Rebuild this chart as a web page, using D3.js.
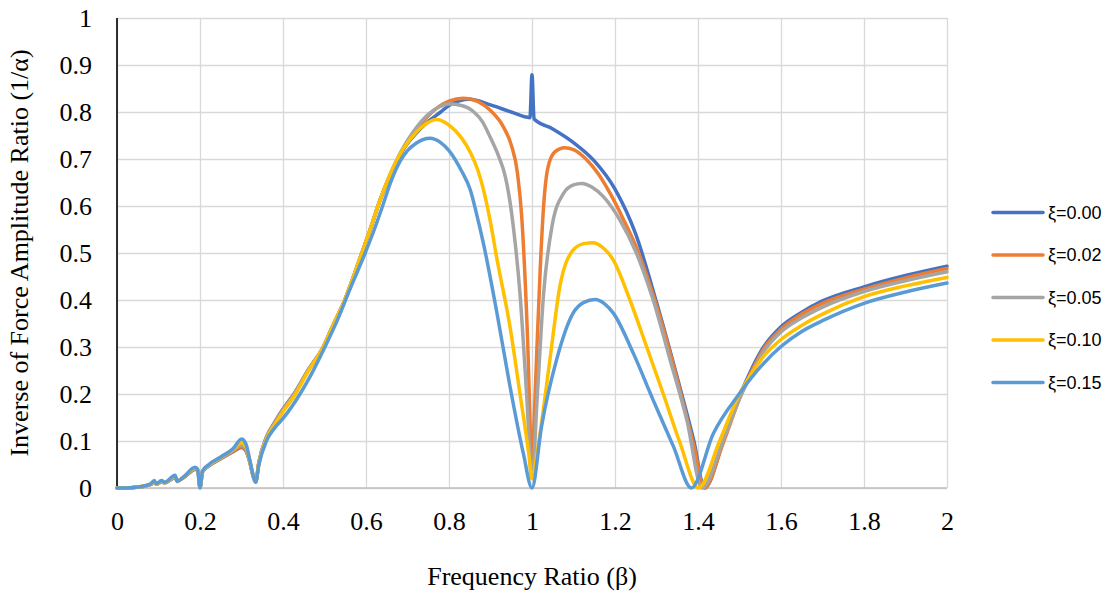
<!DOCTYPE html>
<html>
<head>
<meta charset="utf-8">
<script src="https://cdn.jsdelivr.net/npm/d3@7"></script>
<style>
  html, body { margin: 0; padding: 0; background: #ffffff; }
  svg { display: block; }
  .tick text { font-family: "Liberation Serif", "Times New Roman", serif; font-size: 26px; fill: #000; }
  .title { font-family: "Liberation Serif", "Times New Roman", serif; font-size: 26px; fill: #000; }
  .legend text { font-family: "Liberation Sans", Arial, sans-serif; font-size: 18px; fill: #000; }
</style>
</head>
<body>
<div id="chart"></div>
<script>
// tick values
let xTicks = [0, 0.2, 0.4, 0.6, 0.8, 1, 1.2, 1.4, 1.6, 1.8, 2];
let yTicks = [0, 0.1, 0.2, 0.3, 0.4, 0.5, 0.6, 0.7, 0.8, 0.9, 1];

let seriesNames = ["ξ=0.00", "ξ=0.02", "ξ=0.05", "ξ=0.10", "ξ=0.15"];

// [frequency ratio, inverse of force amplitude ratio]
let xi000 = [[0,0],[0.04,0.001],[0.08,0.007],[0.09,0.012],[0.095,0.008],[0.107,0.013],[0.115,0.011],[0.14,0.022],[0.145,0.015],[0.16,0.022],[0.19,0.04],[0.195,0.036],[0.2,0.002],[0.206,0.034],[0.22,0.046],[0.25,0.062],[0.28,0.077],[0.3,0.086],[0.31,0.08],[0.32,0.055],[0.328,0.026],[0.334,0.013],[0.342,0.055],[0.36,0.108],[0.38,0.14],[0.4,0.168],[0.43,0.205],[0.46,0.25],[0.497,0.3],[0.52,0.345],[0.549,0.4],[0.57,0.45],[0.59,0.5],[0.61,0.55],[0.634,0.613],[0.674,0.694],[0.69,0.72],[0.714,0.748],[0.75,0.78],[0.78,0.8],[0.8,0.814],[0.85,0.827],[0.9,0.815],[0.95,0.8],[0.995,0.788],[1.0,0.879],[1.005,0.785],[1.05,0.764],[1.1,0.735],[1.15,0.696],[1.2,0.636],[1.25,0.54],[1.3,0.395],[1.35,0.235],[1.39,0.1],[1.416,0.0],[1.46,0.097],[1.5,0.195],[1.53,0.255],[1.558,0.3],[1.6,0.343],[1.65,0.374],[1.7,0.398],[1.8,0.428],[1.9,0.452],[2.0,0.472]];

let xi002 = [[0,0],[0.04,0.001],[0.08,0.007],[0.09,0.012],[0.095,0.008],[0.107,0.013],[0.115,0.011],[0.14,0.023],[0.145,0.015],[0.16,0.022],[0.19,0.041],[0.195,0.037],[0.2,0.002],[0.206,0.034],[0.22,0.047],[0.25,0.063],[0.28,0.078],[0.3,0.088],[0.31,0.082],[0.32,0.056],[0.328,0.026],[0.334,0.013],[0.342,0.055],[0.36,0.107],[0.38,0.139],[0.4,0.167],[0.43,0.204],[0.46,0.25],[0.497,0.3],[0.52,0.345],[0.549,0.4],[0.57,0.45],[0.59,0.5],[0.61,0.55],[0.634,0.613],[0.674,0.696],[0.69,0.722],[0.714,0.752],[0.75,0.792],[0.8,0.823],[0.835,0.829],[0.87,0.822],[0.9,0.803],[0.93,0.77],[0.95,0.73],[0.965,0.67],[0.975,0.58],[0.982,0.47],[0.99,0.3],[0.996,0.12],[1.0,0.03],[1.005,0.14],[1.012,0.3],[1.02,0.47],[1.028,0.6],[1.038,0.68],[1.055,0.715],[1.079,0.724],[1.1,0.72],[1.13,0.7],[1.16,0.668],[1.19,0.624],[1.22,0.572],[1.25,0.515],[1.3,0.388],[1.35,0.23],[1.39,0.09],[1.415,0.0],[1.46,0.094],[1.5,0.19],[1.53,0.25],[1.558,0.296],[1.6,0.338],[1.65,0.37],[1.7,0.393],[1.8,0.423],[1.9,0.447],[2.0,0.467]];

let xi005 = [[0,0],[0.04,0.001],[0.08,0.007],[0.09,0.013],[0.095,0.008],[0.107,0.014],[0.115,0.011],[0.14,0.024],[0.145,0.015],[0.16,0.023],[0.19,0.042],[0.195,0.038],[0.2,0.001],[0.206,0.035],[0.22,0.047],[0.25,0.064],[0.28,0.08],[0.3,0.092],[0.31,0.085],[0.32,0.057],[0.328,0.026],[0.334,0.013],[0.342,0.054],[0.36,0.106],[0.38,0.138],[0.4,0.166],[0.43,0.203],[0.46,0.25],[0.497,0.3],[0.52,0.345],[0.549,0.4],[0.57,0.45],[0.59,0.5],[0.61,0.55],[0.634,0.613],[0.674,0.698],[0.69,0.725],[0.714,0.758],[0.75,0.795],[0.775,0.81],[0.8,0.817],[0.83,0.814],[0.86,0.8],[0.88,0.78],[0.9,0.745],[0.92,0.705],[0.935,0.665],[0.945,0.62],[0.955,0.556],[0.971,0.414],[0.987,0.2],[1.0,0.02],[1.013,0.2],[1.028,0.414],[1.048,0.556],[1.076,0.627],[1.1,0.645],[1.12,0.648],[1.145,0.64],[1.172,0.62],[1.212,0.57],[1.252,0.499],[1.292,0.4],[1.333,0.272],[1.373,0.145],[1.41,0.0],[1.46,0.1],[1.5,0.19],[1.53,0.245],[1.558,0.29],[1.6,0.332],[1.65,0.362],[1.7,0.385],[1.8,0.418],[1.9,0.441],[2.0,0.46]];

let xi010 = [[0,0],[0.04,0.001],[0.08,0.008],[0.09,0.014],[0.095,0.008],[0.107,0.015],[0.115,0.011],[0.14,0.025],[0.145,0.014],[0.16,0.023],[0.19,0.043],[0.195,0.039],[0.2,0.001],[0.206,0.035],[0.22,0.048],[0.25,0.065],[0.28,0.082],[0.3,0.097],[0.31,0.089],[0.32,0.058],[0.328,0.026],[0.334,0.013],[0.342,0.053],[0.36,0.104],[0.38,0.135],[0.4,0.162],[0.43,0.2],[0.46,0.247],[0.497,0.3],[0.52,0.345],[0.549,0.4],[0.57,0.45],[0.59,0.5],[0.61,0.55],[0.634,0.613],[0.674,0.697],[0.69,0.722],[0.714,0.75],[0.74,0.772],[0.77,0.784],[0.8,0.772],[0.83,0.745],[0.851,0.715],[0.87,0.675],[0.883,0.635],[0.9,0.565],[0.915,0.49],[0.947,0.343],[0.971,0.201],[0.992,0.074],[1.0,0.02],[1.012,0.074],[1.043,0.272],[1.067,0.428],[1.099,0.506],[1.125,0.52],[1.147,0.522],[1.17,0.512],[1.196,0.485],[1.236,0.4],[1.276,0.301],[1.316,0.201],[1.357,0.095],[1.401,0.0],[1.453,0.102],[1.5,0.2],[1.53,0.245],[1.558,0.28],[1.6,0.316],[1.65,0.346],[1.7,0.37],[1.8,0.407],[1.9,0.43],[2.0,0.448]];

let xi015 = [[0,0],[0.04,0.001],[0.08,0.008],[0.09,0.016],[0.095,0.009],[0.107,0.016],[0.115,0.012],[0.14,0.027],[0.145,0.014],[0.16,0.023],[0.188,0.044],[0.194,0.04],[0.2,0.0],[0.206,0.036],[0.22,0.049],[0.25,0.066],[0.28,0.084],[0.3,0.104],[0.31,0.095],[0.32,0.06],[0.328,0.026],[0.334,0.012],[0.342,0.05],[0.36,0.1],[0.38,0.128],[0.4,0.148],[0.441,0.2],[0.47,0.245],[0.501,0.3],[0.53,0.355],[0.56,0.42],[0.598,0.5],[0.62,0.55],[0.64,0.6],[0.66,0.652],[0.682,0.695],[0.7,0.718],[0.72,0.733],[0.754,0.744],[0.78,0.735],[0.8,0.718],[0.83,0.675],[0.851,0.635],[0.87,0.57],[0.883,0.52],[0.915,0.375],[0.947,0.216],[0.979,0.074],[1.0,0.0],[1.023,0.131],[1.059,0.272],[1.099,0.372],[1.125,0.395],[1.152,0.401],[1.175,0.392],[1.196,0.372],[1.244,0.287],[1.292,0.187],[1.341,0.088],[1.384,0.0],[1.437,0.116],[1.5,0.201],[1.558,0.265],[1.6,0.301],[1.65,0.333],[1.7,0.356],[1.8,0.393],[1.9,0.417],[2.0,0.436]];

let seriesValues = [xi000, xi002, xi005, xi010, xi015];
let seriesColors = ["#4472C4", "#ED7D31", "#A5A5A5", "#FFC000", "#5B9BD5"];

let fullWidth = 1110;
let fullHeight = 596;
let margin = { top: 18, right: 163, bottom: 108, left: 117 };
let width = fullWidth - margin.left - margin.right;
let height = fullHeight - margin.top - margin.bottom;

let svg = d3.select("#chart").append("svg")
    .attr("width", fullWidth)
    .attr("height", fullHeight);

let g = svg.append("g")
    .attr("transform", "translate(" + margin.left + "," + margin.top + ")");

let x = d3.scaleLinear().domain([0, 2]).range([0, width]);
let y = d3.scaleLinear().domain([0, 1]).range([height, 0]);

let fmt = d3.format("~g");

// horizontal grid + y labels
let yAxis = g.append("g")
    .call(d3.axisLeft(y).tickValues(yTicks).tickFormat(fmt).tickSize(-width).tickPadding(25));
yAxis.select(".domain").remove();
yAxis.selectAll(".tick line").attr("stroke", "#D9D9D9").attr("stroke-width", 1.3);
yAxis.selectAll(".tick text").attr("dy", "0.34em");

// vertical grid + x labels
let xAxis = g.append("g")
    .attr("transform", "translate(0," + height + ")")
    .call(d3.axisBottom(x).tickValues(xTicks).tickFormat(fmt).tickSize(-height));
xAxis.select(".domain").remove();
xAxis.selectAll(".tick line").attr("stroke", "#D9D9D9").attr("stroke-width", 1.3);
xAxis.selectAll(".tick text").attr("y", 42).attr("dy", 0);

// axis lines
g.append("line")
    .attr("x1", 0).attr("x2", width)
    .attr("y1", height).attr("y2", height)
    .attr("stroke", "#BFBFBF").attr("stroke-width", 1.5);
g.append("line")
    .attr("x1", 0).attr("x2", 0)
    .attr("y1", 0).attr("y2", height)
    .attr("stroke", "#000").attr("stroke-width", 1.6);

let line = d3.line()
    .x(function (d) { return x(d[0]); })
    .y(function (d) { return y(d[1]); })
    .curve(d3.curveMonotoneX);

g.selectAll(".series")
    .data(seriesValues)
    .join("path")
    .attr("class", "series")
    .attr("d", line)
    .attr("fill", "none")
    .attr("stroke", function (d, i) { return seriesColors[i]; })
    .attr("stroke-width", 3.5)
    .attr("stroke-linejoin", "round")
    .attr("stroke-linecap", "round");

// titles
svg.append("text")
    .attr("class", "title")
    .attr("text-anchor", "middle")
    .attr("transform", "translate(28," + (margin.top + height / 2) + ") rotate(-90)")
    .text("Inverse of Force Amplitude Ratio (1/α)");

svg.append("text")
    .attr("class", "title")
    .attr("text-anchor", "middle")
    .attr("x", margin.left + width / 2)
    .attr("y", 585)
    .text("Frequency Ratio (β)");

// legend
let legendTop = 212.5;
let legendStep = 42.5;
let legend = svg.append("g").attr("class", "legend");
let items = legend.selectAll("g")
    .data(seriesNames)
    .join("g")
    .attr("transform", function (d, i) { return "translate(993," + (legendTop + i * legendStep) + ")"; });
items.append("line")
    .attr("x1", 0).attr("x2", 50)
    .attr("stroke", function (d, i) { return seriesColors[i]; })
    .attr("stroke-width", 3.5)
    .attr("stroke-linecap", "round");
items.append("text")
    .attr("x", 55)
    .attr("dy", "0.36em")
    .text(function (d) { return d; });
</script>
</body>
</html>
